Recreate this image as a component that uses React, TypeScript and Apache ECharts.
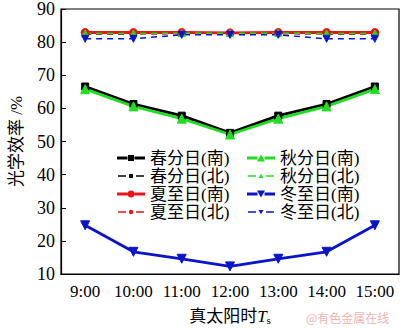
import React, { useEffect, useRef } from "react";
import * as echarts from "echarts";

const categories = ["9:00", "10:00", "11:00", "12:00", "13:00", "14:00", "15:00"];
const yTicks = [10, 20, 30, 40, 50, 60, 70, 80, 90];

const springSouth = [66.6, 61.3, 57.8, 52.6, 57.8, 61.3, 66.6];
const springNorth = [82.4, 82.5, 82.6, 82.6, 82.6, 82.5, 82.4];
const summerSouth = [82.9, 82.9, 82.9, 82.8, 82.9, 82.9, 82.9];
const summerNorth = [82.5, 82.6, 82.6, 82.6, 82.6, 82.6, 82.5];
const autumnSouth = [65.8, 60.6, 56.9, 52.1, 56.9, 60.6, 65.8];
const autumnNorth = [82.6, 82.6, 82.7, 82.7, 82.7, 82.6, 82.6];
const winterSouth = [24.7, 16.7, 14.6, 12.3, 14.6, 16.7, 24.7];
const winterNorth = [81.0, 81.0, 82.2, 82.2, 82.2, 81.0, 81.0];

const names = [
  "春分日(南)", "春分日(北)", "夏至日(南)", "夏至日(北)",
  "秋分日(南)", "秋分日(北)", "冬至日(南)", "冬至日(北)",
];

const FONT = "'Liberation Serif', 'Noto Sans CJK SC', serif";
const DOWN_TRI = "path://M0,0 L10,0 L5,9 Z";

// invisible anchors so every icon has a 28x8 bounding box (no stretching)
const ANCHOR = "M0,0L0.01,0Z M27.99,8L28,8Z ";
const SOLID_LINE = ANCHOR + "M0,2.6H10.5V5.4H0Z M17.5,2.6H28V5.4H17.5Z ";
const DASH_LINE = ANCHOR + "M1,3.3H9V4.7H1Z M19,3.3H27V4.7H19Z ";
const icons = [
  "path://" + SOLID_LINE + "M11,1H17V7H11Z",
  "path://" + DASH_LINE + "M12,2H16V6H12Z",
  "path://" + SOLID_LINE + "M10.5,4A3.5,3.5 0 1,0 17.5,4A3.5,3.5 0 1,0 10.5,4Z",
  "path://" + DASH_LINE + "M11.8,4A2.2,2.2 0 1,0 16.2,4A2.2,2.2 0 1,0 11.8,4Z",
  "path://" + SOLID_LINE + "M10,7.5L14,0.5L18,7.5Z",
  "path://" + DASH_LINE + "M11.5,6L14,1.8L16.5,6Z",
  "path://" + SOLID_LINE + "M10,0.5L18,0.5L14,7.5Z",
  "path://" + DASH_LINE + "M11.5,2L16.5,2L14,6.2Z",
];

export default function App() {
  const ref = useRef<HTMLDivElement>(null);
  useEffect(() => {
    if (!ref.current) return;
    const chart = echarts.init(ref.current, undefined, { renderer: "svg" });
    const mk = (name: string, data: number[], color: string, dashed: boolean, symbol: string, size: number) => ({
      name,
      type: "line",
      data,
      symbol,
      symbolSize: size,
      lineStyle: { color, width: dashed ? 1.5 : 2.8, type: dashed ? [6, 5] : "solid" },
      itemStyle: { color, borderColor: color, borderWidth: 1 },
    });
    const legendBase = {
      orient: "vertical",
      top: 149,
      padding: 0,
      itemGap: 0,
      itemWidth: 28,
      itemHeight: 8,
      itemStyle: { borderWidth: 0 },
      lineStyle: { width: 0 },
      textStyle: { fontSize: 17, color: "#000", fontFamily: FONT, lineHeight: 18 },
    };
    const legendData = names.map((n, i) => ({ name: n, icon: icons[i], itemStyle: { borderWidth: 0 } }));
    chart.setOption({
      animation: false,
      textStyle: { fontFamily: FONT },
      grid: { left: 52, right: 1, top: 6, bottom: 48, show: true, borderColor: "#000", borderWidth: 1.2 },
      xAxis: {
        type: "category",
        data: categories,
        boundaryGap: true,
        axisLine: { lineStyle: { color: "#000", width: 1.2 } },
        axisTick: { inside: true, alignWithLabel: true, length: 5, lineStyle: { color: "#000" } },
        axisLabel: { color: "#000", fontSize: 17, fontFamily: FONT, margin: 9, interval: 0, hideOverlap: false },
        name: "真太阳时{i|T}{s|s}",
        nameLocation: "middle",
        nameGap: 33,
        nameTextStyle: {
          color: "#000",
          fontSize: 17,
          fontFamily: FONT,
          rich: {
            i: { fontSize: 17, fontStyle: "italic", fontFamily: FONT, color: "#000" },
            s: { fontSize: 11, fontFamily: FONT, color: "#000", padding: [8, 0, 0, 0] },
          },
        },
      },
      yAxis: {
        type: "value",
        min: yTicks[0],
        max: yTicks[yTicks.length - 1],
        interval: 10,
        splitLine: { show: false },
        axisLine: { show: true, lineStyle: { color: "#000", width: 1.2 } },
        axisTick: { show: true, inside: true, length: 5, lineStyle: { color: "#000" } },
        axisLabel: { color: "#000", fontSize: 18, fontFamily: FONT, margin: 6 },
        name: "光学效率 /%",
        nameLocation: "middle",
        nameGap: 36,
        nameTextStyle: { color: "#000", fontSize: 17, fontFamily: FONT },
      },
      legend: [
        { ...legendBase, data: legendData.slice(0, 4), left: 117 },
        { ...legendBase, data: legendData.slice(4, 8), left: 247 },
      ],
      graphic: [
        {
          type: "text",
          left: 306,
          top: 311,
          style: { text: "@有色金属在线", fill: "#f0b4b4", fontSize: 12, fontFamily: "'Noto Sans CJK SC', sans-serif" },
        },
      ],
      series: [
        mk(names[0], springSouth, "#000000", false, "rect", 7),
        mk(names[1], springNorth, "#000000", true, "rect", 5),
        mk(names[2], summerSouth, "#e8141a", false, "circle", 8),
        mk(names[3], summerNorth, "#e8141a", true, "circle", 5),
        mk(names[4], autumnSouth, "#22dd22", false, "triangle", 9),
        mk(names[5], autumnNorth, "#22dd22", true, "triangle", 7),
        mk(names[6], winterSouth, "#0a14c8", false, DOWN_TRI, 9),
        mk(names[7], winterNorth, "#0a14c8", true, DOWN_TRI, 7),
      ],
    });
    return () => chart.dispose();
  }, []);
  return <div ref={ref} style={{ position: "fixed", left: 0, top: 0, width: 400, height: 331, background: "#fff" }} />;
}
